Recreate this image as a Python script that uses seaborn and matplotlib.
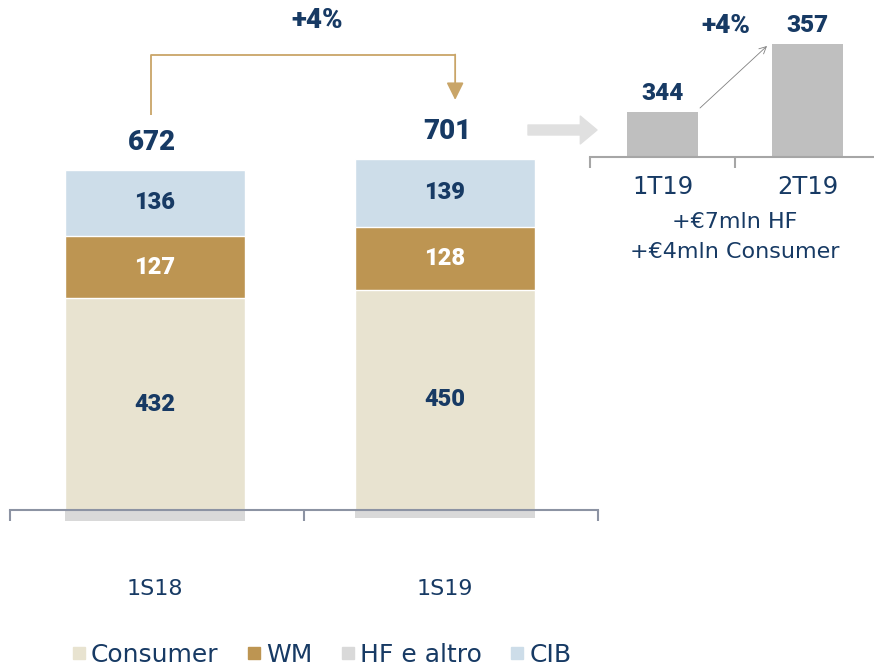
import matplotlib
matplotlib.use("Agg")
import matplotlib.pyplot as plt
import pandas as pd
import seaborn as sns
from matplotlib.lines import Line2D
from matplotlib.patches import FancyArrowPatch

# Dati
periodi = ["1S18", "1S19"]
consumer = [432, 450]
wm = [127, 128]
cib = [136, 139]
hf_altro = [-23, -16]
totali = [672, 701]
variazione = "+4%"

trimestri = ["1T19", "2T19"]
trim_valori = [344, 357]
trim_variazione = "+4%"
trim_note = ["+€7mln HF", "+€4mln Consumer"]

legenda = ["Consumer", "WM", "HF e altro", "CIB"]
colori = {"Consumer": "#e8e3d0", "WM": "#bd9552", "HF e altro": "#d9d9d9", "CIB": "#cddde9"}
navy = "#173a64"
oro = "#c9a568"
num_font = dict(family="Roboto", fontweight="heavy")

sns.set_theme(style="white")
plt.rcParams['font.family'] = ['DejaVu Sans']

W, H = 874, 668
fig = plt.figure(figsize=(W / 100, H / 100), dpi=100)


def fx(px):
    return px / W


def fy(py):
    return 1 - py / H


# Grafico principale
df = pd.DataFrame({"periodo": periodi, "Consumer": consumer, "WM": wm,
                   "CIB": cib, "HF e altro": hf_altro})
df["top_wm"] = df["Consumer"] + df["WM"]
df["top_cib"] = df["top_wm"] + df["CIB"]

ax = fig.add_axes([fx(10), fy(560), fx(598) - fx(10), 560 / H])
kw = dict(x="periodo", order=periodi, width=0.62, saturation=1, ax=ax,
          edgecolor="white", linewidth=1)
sns.barplot(data=df, y="top_cib", color=colori["CIB"], **kw)
sns.barplot(data=df, y="top_wm", color=colori["WM"], **kw)
sns.barplot(data=df, y="Consumer", color=colori["Consumer"], **kw)
sns.barplot(data=df, y="HF e altro", color=colori["HF e altro"], x="periodo", order=periodi,
            width=0.62, saturation=1, ax=ax, linewidth=0)

ax.set_xlim(-0.5, 1.5276)
ax.set_ylim(-102, 1041)
ax.set_xlabel("")
ax.set_ylabel("")
ax.set_yticks([])
for s in ["top", "left", "right"]:
    ax.spines[s].set_visible(False)
ax.spines["bottom"].set_position(("data", 0))
ax.spines["bottom"].set_color("#8c93a3")
ax.spines["bottom"].set_linewidth(1.5)
ax.set_xticks([0, 1])
ax.set_xticklabels(periodi, color=navy, fontsize=16)
ax.set_xticks([-0.5, 0.5138, 1.5276], minor=True)
ax.tick_params(axis="x", which="major", length=0, pad=50)
ax.tick_params(axis="x", which="minor", length=8, width=1.5, color="#8c93a3", direction="out",
               bottom=True)

scarto = [-0.01, 0.007]
for i in range(len(periodi)):
    ax.text(i, consumer[i] / 2, str(consumer[i]), ha="center", va="center",
            fontsize=17, color=navy, **num_font)
    ax.text(i, consumer[i] + wm[i] / 2, str(wm[i]), ha="center", va="center",
            fontsize=17, color="white", **num_font)
    ax.text(i, consumer[i] + wm[i] + cib[i] / 2, str(cib[i]), ha="center", va="center",
            fontsize=17, color=navy, **num_font)
    ax.text(i + scarto[i], consumer[i] + wm[i] + cib[i] + 55, str(totali[i]), ha="center",
            va="center", fontsize=20, color=navy, **num_font)

# freccia +4%
x0, x1 = -0.013, 1.035
ax.plot([x0, x0, x1], [806, 929, 929], color=oro, lw=1.3, solid_capstyle="butt")
ax.annotate("", xy=(x1, 837), xytext=(x1, 929.7),
            arrowprops=dict(arrowstyle="-|>,head_length=1.05,head_width=0.52",
                            color=oro, lw=1.3, mutation_scale=10, shrinkA=0, shrinkB=0))
ax.text(0.56, 1000, variazione, ha="center", va="center", fontsize=20,
        color=navy, **num_font)

# Grafico trimestrale
ax2 = fig.add_axes([fx(590), fy(157), fx(874) - fx(590), 157 / H])
dft = pd.DataFrame({"trimestre": trimestri, "valore": trim_valori})
sns.barplot(data=dft, x="trimestre", y="valore", order=trimestri, color="#bfbfbf",
            saturation=1, width=0.49, ax=ax2, linewidth=0)
ax2.set_xlim(-0.5, 1.459)
ax2.set_ylim(335.4, 365.4)
ax2.set_xlabel("")
ax2.set_ylabel("")
ax2.set_yticks([])
for s in ["top", "left", "right"]:
    ax2.spines[s].set_visible(False)
ax2.spines["bottom"].set_color("#a6a6a6")
ax2.spines["bottom"].set_linewidth(1.5)
ax2.set_xticks([0, 1])
ax2.set_xticklabels(trimestri, color=navy, fontsize=17.5)
ax2.set_xticks([-0.5, 0.5], minor=True)
ax2.tick_params(axis="x", which="major", length=0, pad=13)
ax2.tick_params(axis="x", which="minor", length=8, width=1.5, color="#a6a6a6", direction="out",
                bottom=True)
for i, v in enumerate(trim_valori):
    ax2.text(i, v + 3.6, str(v), ha="center", va="center", fontsize=17.5,
             color=navy, clip_on=False, **num_font)

fig.add_artist(FancyArrowPatch((fx(700), fy(108)), (fx(767), fy(46)),
                               transform=fig.transFigure,
                               arrowstyle="->,head_length=5,head_width=2.5",
                               color="#808080", lw=0.6, shrinkA=0, shrinkB=0))
fig.text(fx(726), fy(26), trim_variazione, ha="center", va="center", fontsize=19,
         color=navy, **num_font)

for j, nota in enumerate(trim_note):
    fig.text(fx(735), fy(222 + 30 * j), nota, ha="center", va="center",
             fontsize=16, color=navy)

# freccia grigia
fig.add_artist(FancyArrowPatch((fx(528), fy(130)), (fx(597), fy(130)),
                               transform=fig.transFigure,
                               arrowstyle="simple,head_length=0.6,head_width=1.0,tail_width=0.36",
                               color="#e0e0e0", mutation_scale=20, shrinkA=0, shrinkB=0))

# Legenda
handles = [Line2D([0], [0], marker="s", linestyle="", markersize=9,
                  markerfacecolor=colori[n], markeredgecolor=colori[n]) for n in legenda]
fig.legend(handles, legenda, loc="center", bbox_to_anchor=(fx(320), fy(655)), ncol=4,
           frameon=False, fontsize=18, handletextpad=0.1, columnspacing=1.0,
           labelcolor=navy, handlelength=0.8)

fig.savefig("out.png", dpi=100)
